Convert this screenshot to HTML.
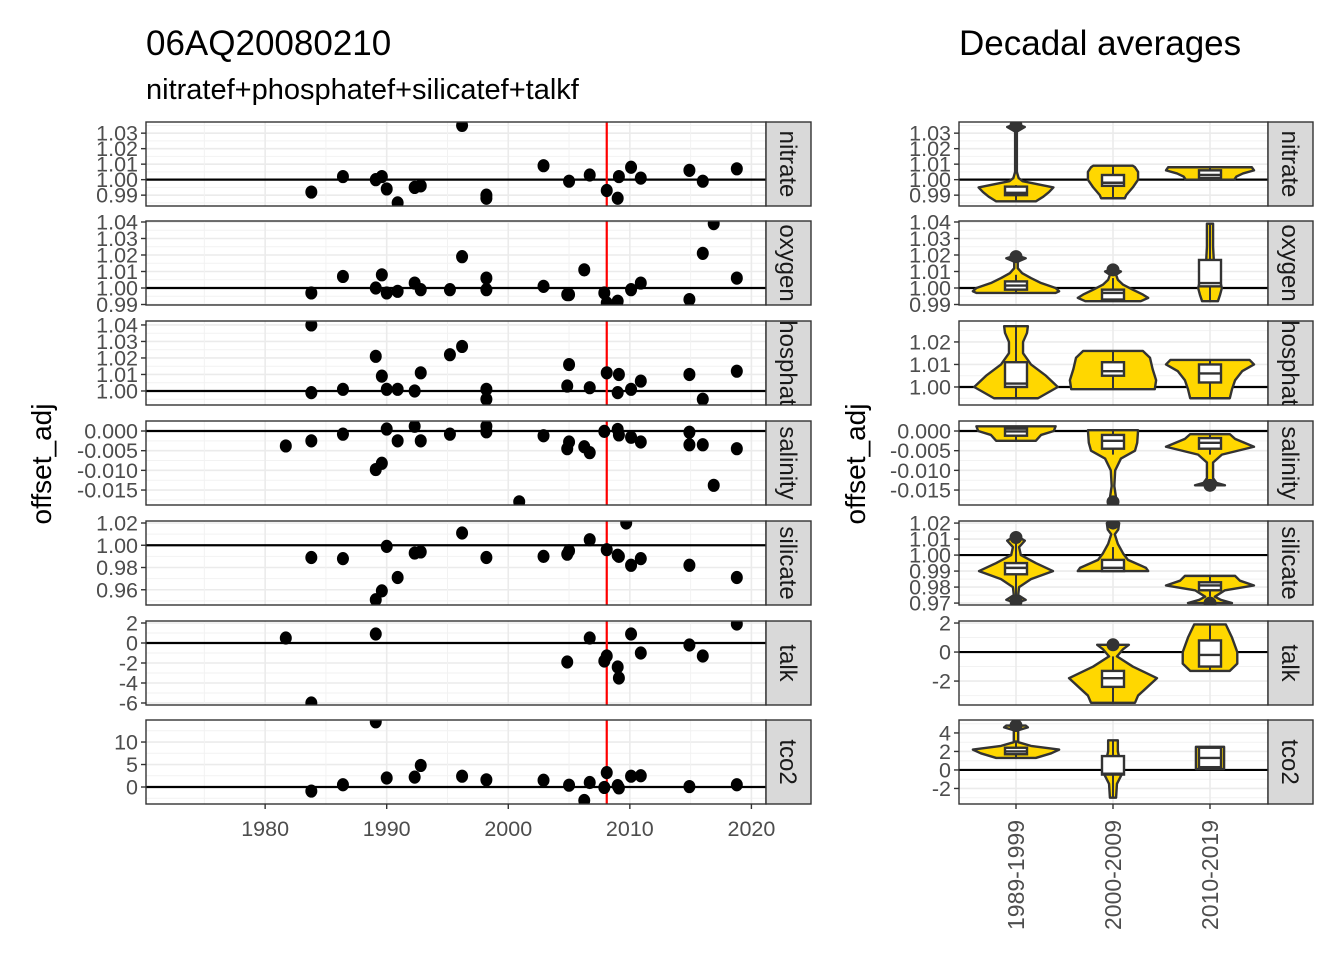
<!DOCTYPE html>
<html><head><meta charset="utf-8"><style>
body{margin:0;background:#fff;}
svg{display:block;font-family:"Liberation Sans",sans-serif;}
</style></head><body>
<svg id="chart" width="1344" height="960" viewBox="0 0 1344 960" xmlns="http://www.w3.org/2000/svg">
<rect width="1344" height="960" fill="#fff"/>
<text x="146" y="55" font-size="35" fill="#000">06AQ20080210</text>
<text x="146" y="99" font-size="29" fill="#000">nitratef+phosphatef+silicatef+talkf</text>
<text x="959" y="55" font-size="35" fill="#000">Decadal averages</text>
<text transform="translate(51,464) rotate(-90)" text-anchor="middle" font-size="28" fill="#000">offset_adj</text>
<text transform="translate(865,464) rotate(-90)" text-anchor="middle" font-size="28" fill="#000">offset_adj</text>
<g id="plots"></g>
</svg>
<script>
// ---------- data ----------
const variables = ["nitrate","oxygen","phosphate","salinity","silicate","talk","tco2"];
const xTickYears = [1980,1990,2000,2010,2020];
const crossoverYear = 2008.1;
const decades = ["1989-1999","2000-2009","2010-2019"];

const nitrateYears = [1983.8,1986.4,1989.1,1989.6,1990.0,1990.9,1992.3,1992.8,1996.2,1998.2,1998.2,2002.9,2005.0,2006.7,2008.1,2009.0,2009.1,2010.1,2010.9,2014.9,2016.0,2018.8];
const nitrateValues = [0.992,1.002,1.000,1.002,0.994,0.985,0.995,0.996,1.035,0.990,0.988,1.009,0.999,1.003,0.993,0.988,1.002,1.008,1.001,1.006,0.999,1.007];
const oxygenYears = [1983.8,1986.4,1989.1,1989.6,1990.0,1990.9,1992.3,1992.8,1995.2,1996.2,1998.2,1998.2,2002.9,2004.85,2005.0,2006.25,2007.9,2008.1,2009.0,2010.1,2010.9,2014.9,2016.0,2016.9,2018.8];
const oxygenValues = [0.997,1.007,1.000,1.008,0.997,0.998,1.003,0.999,0.999,1.019,1.006,0.999,1.001,0.996,0.996,1.011,0.997,0.991,0.992,0.999,1.003,0.993,1.021,1.039,1.006];
const phosphateYears = [1983.8,1983.8,1986.4,1989.1,1989.6,1990.0,1990.9,1992.3,1992.8,1995.2,1996.2,1998.2,1998.2,2004.85,2005.0,2006.7,2008.1,2009.0,2009.1,2010.1,2010.9,2014.9,2016.0,2018.8];
const phosphateValues = [0.999,1.040,1.001,1.021,1.009,1.001,1.001,1.000,1.011,1.022,1.027,1.001,0.995,1.003,1.016,1.002,1.011,0.999,1.010,1.001,1.006,1.010,0.995,1.012];
const salinityYears = [1981.7,1983.8,1986.4,1989.1,1989.6,1990.0,1990.9,1992.3,1992.8,1995.2,1998.2,1998.2,2000.9,2002.9,2004.85,2005.0,2006.25,2006.7,2007.9,2009.0,2009.1,2010.1,2010.9,2014.9,2014.9,2016.0,2016.9,2018.8];
const salinityValues = [-0.0038,-0.0025,-0.0008,-0.0098,-0.0082,0.0005,-0.0025,0.0012,-0.0025,-0.0008,0.0012,-0.0002,-0.018,-0.0012,-0.0045,-0.0028,-0.004,-0.0055,-0.0001,0.0004,-0.0010,-0.0016,-0.0028,-0.0003,-0.0035,-0.0035,-0.0138,-0.0045];
const silicateYears = [1983.8,1986.4,1989.1,1989.6,1990.0,1990.9,1992.3,1992.8,1996.2,1998.2,2002.9,2004.85,2005.0,2006.7,2008.1,2009.0,2009.1,2009.7,2010.1,2010.9,2014.9,2018.8];
const silicateValues = [0.989,0.988,0.951,0.959,0.999,0.971,0.993,0.994,1.011,0.989,0.990,0.992,0.995,1.005,0.996,0.991,0.990,1.020,0.982,0.988,0.982,0.971];
const talkYears = [1981.7,1983.8,1989.1,2004.85,2006.7,2007.9,2008.1,2009.0,2009.1,2010.1,2010.9,2014.9,2016.0,2018.8];
const talkValues = [0.5,-6.0,0.9,-1.9,0.5,-1.8,-1.3,-2.4,-3.5,0.9,-1.0,-0.2,-1.3,1.9];
const tco2Years = [1983.8,1986.4,1989.1,1990.0,1992.3,1992.8,1996.2,1998.2,2002.9,2005.0,2006.25,2006.7,2007.9,2008.1,2009.0,2009.1,2010.1,2010.9,2014.9,2018.8];
const tco2Values = [-0.9,0.5,14.5,2.0,2.2,4.8,2.4,1.6,1.5,0.4,-3.0,1.0,-0.1,3.2,0.3,-0.2,2.4,2.5,0.1,0.5];

const leftDomains = [[0.983,1.0372],[0.9897,1.0406],[0.9915,1.0424],[-0.0188,0.00254],[0.9463,1.0218],[-6.2,2.2],[-3.78,14.9]];
const leftTicks = [[0.99,1.00,1.01,1.02,1.03],[0.99,1.00,1.01,1.02,1.03,1.04],[1.00,1.01,1.02,1.03,1.04],[-0.015,-0.010,-0.005,0.000],[0.96,0.98,1.00,1.02],[-6,-4,-2,0,2],[0,5,10]];
const leftTickLabels = [["0.99","1.00","1.01","1.02","1.03"],["0.99","1.00","1.01","1.02","1.03","1.04"],["1.00","1.01","1.02","1.03","1.04"],["-0.015","-0.010","-0.005","0.000"],["0.96","0.98","1.00","1.02"],["-6","-4","-2","0","2"],["0","5","10"]];
const rightDomains = [[0.983,1.0372],[0.9897,1.0406],[0.992,1.0293],[-0.0188,0.00254],[0.9688,1.0213],[-3.65,2.14],[-3.68,5.4]];
const rightTicks = [[0.99,1.00,1.01,1.02,1.03],[0.99,1.00,1.01,1.02,1.03,1.04],[1.00,1.01,1.02],[-0.015,-0.010,-0.005,0.000],[0.97,0.98,0.99,1.00,1.01,1.02],[-2,0,2],[-2,0,2,4]];
const rightTickLabels = [["0.99","1.00","1.01","1.02","1.03"],["0.99","1.00","1.01","1.02","1.03","1.04"],["1.00","1.01","1.02"],["-0.015","-0.010","-0.005","0.000"],["0.97","0.98","0.99","1.00","1.01","1.02"],["-2","0","2"],["-2","0","2","4"]];

const nitrateViolins = [
 {v:[0.986,0.989,0.992,0.995,0.997,0.999,1.001,1.005,1.031,1.034,1.0355],d:[0.45,0.62,0.75,0.85,0.5,0.15,0.06,0.02,0.02,0.2,0.05],box:[0.986,0.990,0.9915,0.9955,0.9965],out:[1.035]},
 {v:[0.988,0.990,0.995,1.000,1.005,1.008,1.009],d:[0.27,0.3,0.45,0.57,0.57,0.5,0.45],box:[0.988,0.996,0.998,1.003,1.009],out:[]},
 {v:[1.000,1.002,1.004,1.006,1.008],d:[0.55,0.6,0.75,1.0,0.95],box:[1.000,1.001,1.003,1.006,1.008],out:[]}];
const oxygenViolins = [
 {v:[0.997,0.998,1.000,1.003,1.006,1.009,1.012,1.016,1.018,1.019],d:[0.9,0.98,0.9,0.57,0.34,0.14,0.04,0.04,0.22,0.1],box:[0.997,0.999,1.0015,1.004,1.008],out:[1.019]},
 {v:[0.992,0.994,0.996,0.999,1.002,1.005,1.008,1.010,1.011],d:[0.63,0.8,0.68,0.45,0.23,0.11,0.07,0.18,0.08],box:[0.992,0.993,0.997,0.999,1.006],out:[1.011]},
 {v:[0.992,0.996,1.000,1.004,1.008,1.015,1.025,1.039],d:[0.18,0.23,0.27,0.23,0.14,0.09,0.07,0.07],box:[0.992,1.001,1.003,1.017,1.039],out:[]}];
const phosphateViolins = [
 {v:[0.995,1.000,1.005,1.010,1.015,1.020,1.024,1.027],d:[0.5,0.95,0.68,0.34,0.16,0.16,0.25,0.27],box:[0.995,1.000,1.0015,1.011,1.027],out:[]},
 {v:[0.999,1.003,1.008,1.013,1.016],d:[0.95,0.98,0.9,0.84,0.68],box:[0.999,1.005,1.007,1.011,1.016],out:[]},
 {v:[0.995,0.999,1.003,1.007,1.010,1.012],d:[0.45,0.5,0.57,0.73,1.0,0.9],box:[0.995,1.002,1.006,1.010,1.012],out:[]}];
const salinityViolins = [
 {v:[-0.0025,-0.001,0.000,0.0012],d:[0.45,0.57,0.86,0.9],box:[-0.0025,-0.0012,-0.0001,0.0006,0.0012],out:[]},
 {v:[-0.018,-0.017,-0.014,-0.010,-0.007,-0.005,-0.003,0.0002],d:[0.05,0.07,0.03,0.05,0.18,0.5,0.55,0.57],box:[-0.006,-0.0045,-0.0025,-0.001,0.0002],out:[-0.018]},
 {v:[-0.0138,-0.0132,-0.012,-0.008,-0.006,-0.004,-0.002,-0.0008],d:[0.34,0.15,0.07,0.07,0.27,1.0,0.57,0.45],box:[-0.006,-0.0045,-0.003,-0.0018,-0.0008],out:[-0.0138]}];
const silicateViolins = [
 {v:[0.971,0.972,0.975,0.980,0.985,0.990,0.995,1.000,1.005,1.009,1.011],d:[0.1,0.22,0.05,0.07,0.34,0.84,0.45,0.11,0.07,0.2,0.08],box:[0.974,0.988,0.992,0.995,1.0075],out:[0.971,1.011]},
 {v:[0.990,0.992,0.997,1.001,1.007,1.013,1.016,1.020],d:[0.8,0.75,0.34,0.23,0.11,0.04,0.12,0.14],box:[0.990,0.990,0.992,0.997,1.005],out:[1.020]},
 {v:[0.970,0.972,0.974,0.978,0.981,0.984,0.987],d:[0.5,0.25,0.11,0.34,1.0,0.68,0.57],box:[0.974,0.978,0.981,0.983,0.987],out:[0.970]}];
const talkViolins = [
 {v:[-3.5,-3.0,-2.5,-1.8,-1.0,-0.3,0.2,0.5],d:[0.5,0.57,0.75,1.0,0.45,0.09,0.23,0.36],box:[-3.5,-2.4,-1.8,-1.3,-0.3],out:[0.5]},
 {v:[-1.3,-0.8,0.0,1.0,1.9],d:[0.45,0.62,0.62,0.5,0.36],box:[-1.3,-1.0,-0.2,0.8,1.9],out:[]}];
const tco2Violins = [
 {v:[1.3,1.8,2.2,2.6,3.0,4.3,4.6,4.8],d:[0.45,0.8,0.98,0.34,0.05,0.05,0.27,0.22],box:[1.3,1.7,2.0,2.4,3.2],out:[4.8]},
 {v:[-3.0,-1.5,0.0,1.0,2.0,3.2],d:[0.07,0.09,0.25,0.16,0.11,0.11],box:[-3.0,-0.5,-0.4,1.5,3.2],out:[]},
 {v:[0.1,2.5],d:[0.32,0.32],box:[0.1,0.3,1.3,2.4,2.5],out:[]}];
const talkDecades = [1,2];

const allYears=[nitrateYears,oxygenYears,phosphateYears,salinityYears,silicateYears,talkYears,tco2Years];
const allValues=[nitrateValues,oxygenValues,phosphateValues,salinityValues,silicateValues,talkValues,tco2Values];
const allViolins=[nitrateViolins,oxygenViolins,phosphateViolins,salinityViolins,silicateViolins,talkViolins,tco2Violins];

// ---------- layout ----------
const NS="http://www.w3.org/2000/svg";
const root=document.getElementById('plots');
const L={x0:146,x1:766}, R={x0:959,x1:1268};
const panelTops=[122,221,321,421,521,621,720], PH=84;
const xMin=1970.2, xMax=2021.2;
const xL=y=>L.x0+(y-xMin)/(xMax-xMin)*(L.x1-L.x0);
const xR=i=>1016+i*97;
const TICK_FS=21.5;
function mk(tag,attrs,parent){const e=document.createElementNS(NS,tag);for(const k in attrs)e.setAttribute(k,attrs[k]);(parent||root).appendChild(e);return e;}
const defs=mk('defs',{});

function panel(side,pi){
  const P=side==='L'?L:R, top=panelTops[pi], bot=top+PH;
  const dom=side==='L'?leftDomains[pi]:rightDomains[pi];
  const ys=v=>bot-(v-dom[0])/(dom[1]-dom[0])*PH;
  const g=mk('g',{});
  
  
  const cid='c'+side+pi;
  const cp=mk('clipPath',{id:cid},defs); mk('rect',{x:P.x0,y:top,width:P.x1-P.x0,height:PH},cp);
  const scid='s'+side+pi;
  const sp=mk('clipPath',{id:scid},defs); mk('rect',{x:P.x1,y:top,width:45,height:PH},sp);
  mk('rect',{x:P.x0,y:top,width:P.x1-P.x0,height:PH,fill:'#fff'},g);
  const ticks=side==='L'?leftTicks[pi]:rightTicks[pi], labs=side==='L'?leftTickLabels[pi]:rightTickLabels[pi];
  const gc=mk('g',{'clip-path':`url(#${cid})`},g);
  const step=ticks[1]-ticks[0];
  for(let t=ticks[0]-step*3;t<=ticks[ticks.length-1]+step*3;t+=step){
    mk('line',{x1:P.x0,x2:P.x1,y1:ys(t+step/2),y2:ys(t+step/2),stroke:'#f2f2f2','stroke-width':1},gc);
  }
  ticks.forEach(t=>mk('line',{x1:P.x0,x2:P.x1,y1:ys(t),y2:ys(t),stroke:'#ebebeb','stroke-width':1.6},gc));
  if(side==='L'){
    for(let yr=1975;yr<=2020;yr+=10) mk('line',{x1:xL(yr),x2:xL(yr),y1:top,y2:bot,stroke:'#f2f2f2','stroke-width':1},gc);
    xTickYears.forEach(yr=>mk('line',{x1:xL(yr),x2:xL(yr),y1:top,y2:bot,stroke:'#ebebeb','stroke-width':1.6},gc));
  } else {
    decades.forEach((d,i)=>mk('line',{x1:xR(i),x2:xR(i),y1:top,y2:bot,stroke:'#ebebeb','stroke-width':1.6},gc));
  }
  const ref=dom[0]>0.5?1:0;
  mk('line',{x1:P.x0,x2:P.x1,y1:ys(ref),y2:ys(ref),stroke:'#000','stroke-width':2.2},gc);
  if(side==='L'){
    mk('line',{x1:xL(crossoverYear),x2:xL(crossoverYear),y1:top,y2:bot,stroke:'#ff0000','stroke-width':2.2},gc);
    const yrs=allYears[pi], vals=allValues[pi];
    yrs.forEach((yr,k)=>{
      const c=mk('ellipse',{cx:xL(yr),cy:ys(vals[k]),rx:6,ry:6.6,fill:'#000'},gc);
      
      
    });
  } else {
    const vs=allViolins[pi];
    vs.forEach((vi,k)=>{
      const idx=pi===5?talkDecades[k]:k, cx=xR(idx);
      let pts=[];
      vi.v.forEach((v,j)=>pts.push([cx+vi.d[j]*44,ys(v)]));
      for(let j=vi.v.length-1;j>=0;j--) pts.push([cx-vi.d[j]*44,ys(vi.v[j])]);
      const p=mk('polygon',{points:pts.map(q=>q.join(',')).join(' '),fill:'#FFD700',stroke:'#333','stroke-width':2.4,'stroke-linejoin':'round'},gc);
      
      
      const b=vi.box;
      mk('line',{x1:cx,x2:cx,y1:ys(b[0]),y2:ys(b[4]),stroke:'#333','stroke-width':2},gc);
      const bx=mk('rect',{x:cx-11,y:ys(b[3]),width:22,height:Math.max(1,ys(b[1])-ys(b[3])),fill:'#fff',stroke:'#333','stroke-width':2.4},gc);
      
      
      mk('line',{x1:cx-10,x2:cx+10,y1:ys(b[2]),y2:ys(b[2]),stroke:'#333','stroke-width':2.4},gc);
      vi.out.forEach(o=>{
        const c=mk('circle',{cx:cx,cy:ys(o),r:6.5,fill:'#333'},gc);
        
        
      });
    });
  }
  mk('rect',{x:P.x0,y:top,width:P.x1-P.x0,height:PH,fill:'none',stroke:'#333','stroke-width':1.4},g);
  ticks.forEach((t,k)=>{
    mk('line',{x1:P.x0-5,x2:P.x0,y1:ys(t),y2:ys(t),stroke:'#333','stroke-width':1.4},g);
    const tx=mk('text',{x:P.x0-8,y:ys(t)+7.5,'text-anchor':'end','font-size':TICK_FS,fill:'#4d4d4d'},g);
    tx.textContent=labs[k];
    
    
  });
  const st=mk('rect',{x:P.x1,y:top,width:45,height:PH,fill:'#d9d9d9',stroke:'#333','stroke-width':1.4},g);
  
  
  const gs=mk('g',{'clip-path':`url(#${scid})`},g);
  const sl=mk('text',{transform:`translate(${P.x1+14},${top+PH/2}) rotate(90)`,'text-anchor':'middle','font-size':24,fill:'#1a1a1a'},gs);
  sl.textContent=variables[pi];
  
  
}
for(let i=0;i<7;i++){panel('L',i);panel('R',i);}
const bot=panelTops[6]+PH;
xTickYears.forEach(yr=>{
  mk('line',{x1:xL(yr),x2:xL(yr),y1:bot,y2:bot+5,stroke:'#333','stroke-width':1.4});
  const t=mk('text',{x:xL(yr),y:bot+32,'text-anchor':'middle','font-size':TICK_FS,fill:'#4d4d4d'});
  t.textContent=yr;
  
  
});
decades.forEach((d,i)=>{
  mk('line',{x1:xR(i),x2:xR(i),y1:bot,y2:bot+5,stroke:'#333','stroke-width':1.4});
  const t=mk('text',{transform:`translate(${xR(i)+8},${bot+16}) rotate(-90)`,'text-anchor':'end','font-size':23,fill:'#4d4d4d'});
  t.textContent=d;
  
  
});
</script>
</body></html>
